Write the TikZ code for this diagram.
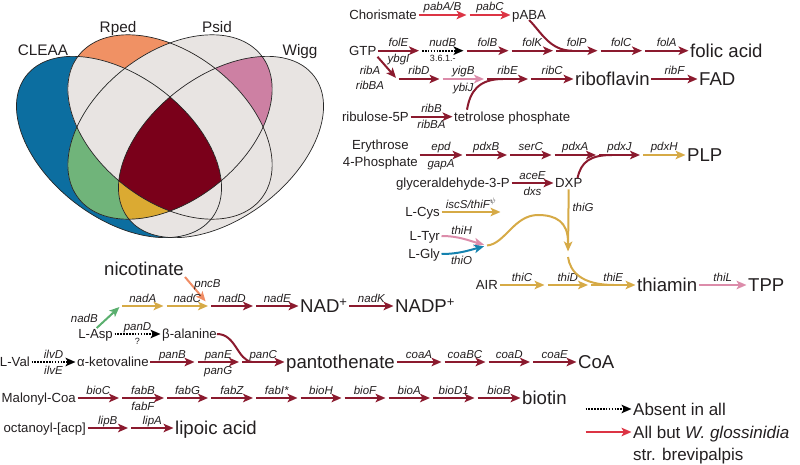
\documentclass[tikz,border=0pt]{standalone}
\usepackage{fontspec}
\setmainfont{Liberation Sans}
\usetikzlibrary{arrows.meta, positioning}
\definecolor{ink}{RGB}{35,31,32}
\definecolor{dkred}{RGB}{139,26,46}
\definecolor{allred}{RGB}{220,52,68}
\definecolor{gold}{RGB}{214,170,70}
\definecolor{rose}{RGB}{220,140,170}
\definecolor{thioblue}{RGB}{20,130,175}
\definecolor{salmon}{RGB}{240,140,100}
\definecolor{leaf}{RGB}{90,175,110}
\definecolor{vgray}{RGB}{232,228,226}
\definecolor{vblue}{RGB}{12,110,160}
\definecolor{vorange}{RGB}{240,145,100}
\definecolor{vpink}{RGB}{205,128,163}
\definecolor{vgreen}{RGB}{112,180,122}
\definecolor{vyellow}{RGB}{219,170,50}
\definecolor{vdark}{RGB}{122,0,26}
\newcommand\vout{(0,0) ellipse (117 and 71)}
\newcommand\vin{(0,0) ellipse (116 and 74)}

\begin{document}
\begin{tikzpicture}[
    x=1pt, y=1pt,
    cpd/.style={inner sep=0pt, text=ink, font=\fontsize{13.2}{16}\selectfont, text height=9.5pt, text depth=0pt},
    cpdm/.style={inner sep=0pt, text=ink, align=center, font=\fontsize{13.2}{17}\selectfont},
    big/.style={cpd, font=\fontsize{18.6}{21}\selectfont, text height=13.3pt},
    leg/.style={cpd, font=\fontsize{17}{20}\selectfont, text height=12.2pt},
    vlab/.style={cpd, font=\fontsize{15.3}{18}\selectfont, text height=11pt},
    gene/.style={inner sep=3pt, text=ink, font=\fontsize{11.5}{13}\selectfont\itshape, text height=8.2pt, text depth=0pt},
    ec/.style={gene, font=\fontsize{9}{11}\selectfont, text height=6.5pt},
    enz/.style={-{Stealth[length=10pt, width=8.5pt, inset=2.5pt]}, line width=2pt, draw=dkred, shorten >=1.5pt, shorten <=1.5pt},
    allbut/.style={enz, draw=allred},
    golden/.style={enz, draw=gold},
    rosy/.style={enz, draw=rose},
    absent/.style={enz, draw=black, dash pattern=on 1.6pt off 1.3pt},
    link/.style={line width=2pt, draw=dkred},
    goldlink/.style={link, draw=gold},
    vline/.style={draw=black!85, line width=0.7pt},
    cl/.style={shift={(119,-147)}, rotate=-37.3},
    wg/.style={shift={(221,-147)}, rotate=37.3},
    rp/.style={shift={(170,-127)}, rotate=-38},
    ps/.style={shift={(170,-127)}, rotate=38}
]
\useasboundingbox (0,0) rectangle (800,-465);

% Venn diagram
\fill[vgray, cl] \vout;
\fill[vgray, wg] \vout;
\fill[vgray, rp] \vin;
\fill[vgray, ps] \vin;
\begin{scope} % CLEAA only
    \clip[cl] \vout;
    \fill[vblue, cl] \vout;
    \fill[vgray, rp] \vin; \fill[vgray, ps] \vin; \fill[vgray, wg] \vout;
\end{scope}
\begin{scope} % Rped only
    \clip[rp] \vin;
    \fill[vorange, rp] \vin;
    \fill[vgray, cl] \vout; \fill[vgray, ps] \vin; \fill[vgray, wg] \vout;
\end{scope}
\begin{scope} % Psid and Wigg
    \clip[ps] \vin; \clip[wg] \vout;
    \fill[vpink, ps] \vin;
    \fill[vgray, cl] \vout; \fill[vgray, rp] \vin;
\end{scope}
\begin{scope} % CLEAA and Psid
    \clip[cl] \vout; \clip[ps] \vin;
    \fill[vgreen, cl] \vout;
    \fill[vgray, rp] \vin; \fill[vgray, wg] \vout;
\end{scope}
\begin{scope} % CLEAA, Psid and Wigg
    \clip[cl] \vout; \clip[ps] \vin; \clip[wg] \vout;
    \fill[vyellow, cl] \vout;
    \fill[vgray, rp] \vin;
\end{scope}
\begin{scope} % all four
    \clip[cl] \vout; \clip[ps] \vin; \clip[wg] \vout; \clip[rp] \vin;
    \fill[vdark, cl] \vout;
\end{scope}
\draw[vline, cl] \vout;
\draw[vline, wg] \vout;
\draw[vline, rp] \vin;
\draw[vline, ps] \vin;
\node[vlab] (lcl) at (43,-50) {CLEAA};
\node[vlab] (lrp) at (118,-27) {Rped};
\node[vlab] (lps) at (217,-27) {Psid};
\node[vlab] (lwg) at (300,-50) {Wigg};

% folate
\node[cpd, anchor=east] (chor) at (417,-15) {Chorismate};
\coordinate (c1) at (468,-15);
\node[cpd, anchor=west] (paba) at (512,-15) {pABA};
\draw[allbut] (chor) -- node[gene, above] {pabA/B} (c1);
\draw[allbut] (c1) -- node[gene, above] {pabC} (paba);
\node[cpd, anchor=east] (gtp) at (376.5,-50.7) {GTP};
\foreach \n/\x in {f1/420.5, f2/465, f3/510, f4/554.5, f5/599, f6/643.5}
    \coordinate (\n) at (\x,-50.7);
\node[big, anchor=west] (folic) at (690,-50.7) {folic acid};
\draw[enz] (gtp) -- node[gene, above] {folE} node[gene, below] {ybgI} (f1);
\draw[absent] (f1) -- node[gene, above] {nudB} node[ec, below] {3.6.1.-} (f2);
\foreach \a/\b/\g in {f2/f3/folB, f3/f4/folK, f4/f5/folP, f5/f6/folC, f6/folic/folA}
    \draw[enz] (\a) -- node[gene, above] {\g} (\b);
\coordinate (j1) at (572,-50.7);
\draw[link] (paba.south) .. controls (541,-32) and (550,-50.7) .. (j1);

% riboflavin
\foreach \n/\x in {r0/397, r1/441, r2/485.5, r3/529.5}
    \coordinate (\n) at (\x,-79);
\node[big, anchor=west] (ribo) at (575,-79) {riboflavin};
\node[big, anchor=west] (fad) at (699,-79) {FAD};
\draw[enz] (gtp.south east) -- (r0);
\node[gene] (riba) at (370,-70.7) {ribA};
\node[gene] (ribba) at (370,-85) {ribBA};
\draw[enz] (r0) -- node[gene, above] {ribD} (r1);
\draw[rosy] (r1) -- node[gene, above] {yigB} node[gene, below] {ybiJ} (r2);
\draw[enz] (r2) -- node[gene, above] {ribE} (r3);
\draw[enz] (r3) -- node[gene, above] {ribC} (ribo);
\draw[enz] (ribo) -- node[gene, above] {ribF} (fad);
\node[cpd, anchor=east] (ribu) at (409,-116.7) {ribulose-5P};
\node[cpd, anchor=west] (tetro) at (454,-116.7) {tetrolose phosphate};
\draw[enz] (ribu) -- node[gene, above] {ribB} node[gene, below] {ribBA} (tetro);
\coordinate (j2) at (503,-79);
\draw[link] ([xshift=13pt, yshift=2pt]tetro.north west) .. controls (470,-92) and (478,-79) .. (j2);

% PLP
\node[cpdm, anchor=east] (ery) at (418,-155) {Erythrose\\4-Phosphate};
\foreach \n/\x in {e1/464, e2/508.5, e3/553, e4/597.5, e5/641.5}
    \coordinate (\n) at (\x,-155);
\node[big, anchor=west] (plp) at (687,-155) {PLP};
\draw[enz] (ery) -- node[gene, above] {epd} node[gene, below] {gapA} (e1);
\foreach \a/\b/\g in {e1/e2/pdxB, e2/e3/serC, e3/e4/pdxA, e4/e5/pdxJ}
    \draw[enz] (\a) -- node[gene, above] {\g} (\b);
\draw[golden] (e5) -- node[gene, above] {pdxH} (plp);
\node[cpd, anchor=east] (glyc) at (510,-183) {glyceraldehyde-3-P};
\node[cpd, anchor=west] (dxp) at (555,-183) {DXP};
\draw[enz] (glyc) -- node[gene, above] {aceE} node[gene, below] {dxs} (dxp);
\coordinate (j3) at (612,-155);
\draw[link] ([xshift=-5pt]dxp.north east) .. controls (581,-162) and (590,-155) .. (j3);

% thiamin
\coordinate (tg) at (568,-253);
\draw[golden] (dxp) -- node[gene, right, pos=0.3] {thiG} (tg);
\node[cpd, anchor=east] (cys) at (440,-212) {L-Cys};
\coordinate (cy) at (502,-212);
\draw[golden] (cys) -- node[gene, above] {iscS/thiF$^{\psi}$} (cy);
\node[cpd, anchor=east] (tyr) at (440,-236) {L-Tyr};
\node[cpd, anchor=east] (gly) at (440,-254) {L-Gly};
\coordinate (tj) at (487,-245.5);
\coordinate (tv) at (568,-242);
\draw[rosy, shorten >=3pt] (tyr) to[out=0, in=165] node[gene, above, pos=0.45] {thiH} (tj);
\draw[enz, draw=thioblue, shorten >=3pt] (gly) to[out=0, in=195] node[gene, below, pos=0.45] {thiO} (tj);
\draw[goldlink] (tj) .. controls (505,-244) and (514,-215) .. (538,-215) .. controls (556,-215) and (568,-222) .. (tv);
\node[cpd, anchor=east] (air) at (498,-285) {AIR};
\coordinate (a1) at (546,-285);
\coordinate (a2) at (589.5,-285);
\node[big, anchor=west] (thia) at (637,-285) {thiamin};
\node[big, anchor=west] (tpp) at (748,-285) {TPP};
\draw[golden] (air) -- node[gene, above] {thiC} (a1);
\draw[golden] (a1) -- node[gene, above] {thiD} (a2);
\draw[golden] (a2) -- node[gene, above] {thiE} (thia);
\draw[rosy] (thia) -- node[gene, above] {thiL} (tpp);
\coordinate (j4) at (614,-285);
\draw[goldlink] ([yshift=-4pt]tg) .. controls (570,-272) and (582,-285) .. (j4);

% NAD
\node[big] (nic) at (144,-269) {nicotinate};
\foreach \n/\x in {n0/120.5, n1/165, n2/209.5, n3/254.5}
    \coordinate (\n) at (\x,-306);
\node[big, anchor=west] (nad) at (300,-306) {NAD\textsuperscript{+}};
\node[big, anchor=west] (nadp) at (395,-306) {NADP\textsuperscript{+}};
\draw[enz, draw=salmon, shorten >=6pt] (nic.south east) -- node[gene, right, pos=0.25] {pncB} (n2);
\draw[golden] (n0) -- node[gene, above] {nadA} (n1);
\draw[golden] (n1) -- node[gene, above] {nadC} (n2);
\draw[enz] (n2) -- node[gene, above] {nadD} (n3);
\draw[enz] (n3) -- node[gene, above] {nadE} (nad);
\draw[enz] (nad) -- node[gene, above] {nadK} (nadp);
\node[cpd, anchor=east] (asp) at (113,-334) {L-Asp};
\draw[enz, draw=leaf] (asp.north) -- node[gene, left=5pt, pos=0.45] {nadB} (n0);
\node[cpd, anchor=west] (bala) at (162,-334) {β-alanine};
\draw[absent] (asp) -- node[gene, above] {panD} node[ec, below] {?} (bala);
\coordinate (j5) at (252,-362);
\draw[link] (bala.east) .. controls (236,-334) and (237,-360) .. (j5);

% pantothenate, CoA
\node[cpd, anchor=east] (lval) at (30,-362) {L-Val};
\node[cpd, anchor=west] (akv) at (77,-362) {α-ketovaline};
\draw[absent] (lval) -- node[gene, above] {ilvD} node[gene, below] {ilvE} (akv);
\foreach \n/\x in {p1/196, p2/240.5, k1/443, k2/487, k3/531.5}
    \coordinate (\n) at (\x,-362);
\node[big, anchor=west] (pant) at (286,-362) {pantothenate};
\node[big, anchor=west] (coa) at (578,-362) {CoA};
\draw[enz] (akv) -- node[gene, above] {panB} (p1);
\draw[enz] (p1) -- node[gene, above] {panE} node[gene, below] {panG} (p2);
\foreach \a/\b/\g in {p2/pant/panC, pant/k1/coaA, k1/k2/coaBC, k2/k3/coaD, k3/coa/coaE}
    \draw[enz] (\a) -- node[gene, above] {\g} (\b);

% biotin
\node[cpd, anchor=east] (malo) at (76,-398) {Malonyl-Coa};
\foreach \n/\x in {b1/120.5, b2/165.5, b3/209.5, b4/254.5, b5/299, b6/343, b7/387, b8/431.5, b9/476}
    \coordinate (\n) at (\x,-398);
\node[big, anchor=west] (bio) at (522,-398) {biotin};
\draw[enz] (b1) -- node[gene, above] {fabB} node[gene, below] {fabF} (b2);
\foreach \a/\b/\g in {malo/b1/bioC, b2/b3/fabG, b3/b4/fabZ, b4/b5/fabI*, b5/b6/bioH, b6/b7/bioF, b7/b8/bioA, b8/b9/bioD1, b9/bio/bioB}
    \draw[enz] (\a) -- node[gene, above] {\g} (\b);

% lipoic acid
\node[cpd, anchor=east] (oct) at (86,-428) {octanoyl-[acp]};
\coordinate (l1) at (129.5,-428);
\node[big, anchor=west] (lipo) at (175,-428) {lipoic acid};
\draw[enz] (oct) -- node[gene, above] {lipB} (l1);
\draw[enz] (l1) -- node[gene, above] {lipA} (lipo);

% legend
\coordinate (lg1) at (584,-409);
\node[leg, anchor=west] (lgabs) at (633,-409) {Absent in all};
\draw[absent] (lg1) -- (lgabs);
\coordinate (lg2) at (584,-432);
\node[leg, anchor=west] (lgall) at (633,-432) {All but \textit{W. glossinidia}};
\node[leg, anchor=north west] (lgstr) at ([yshift=-10pt]lgall.south west) {str. brevipalpis};
\draw[allbut] (lg2) -- (lgall);
\end{tikzpicture}
\end{document}
